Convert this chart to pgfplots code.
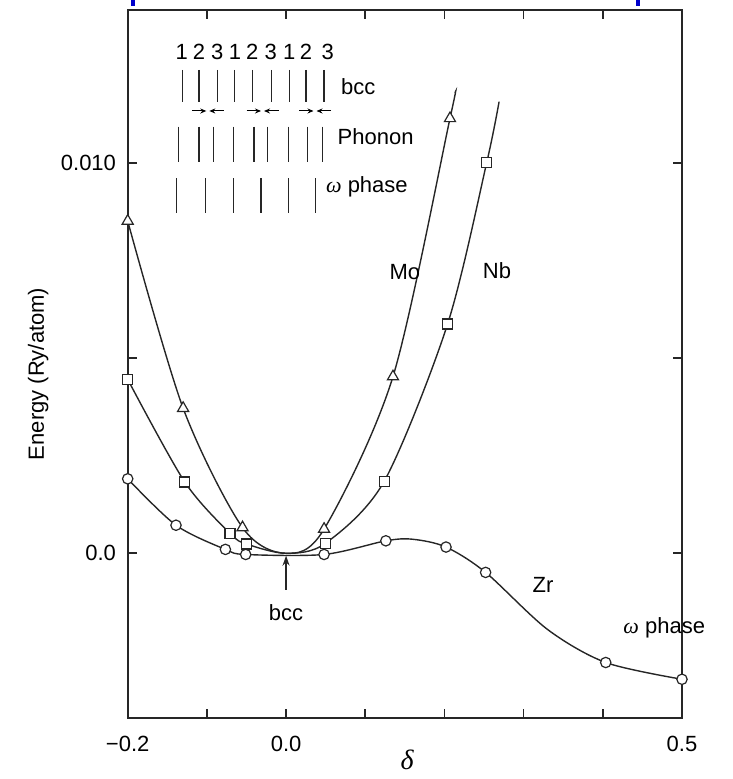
\documentclass[border=0pt]{standalone}
\usepackage{fontspec}
\setmainfont{Liberation Sans}
\newfontfamily\grk{Liberation Serif}
\usepackage{pgfplots}
\pgfplotsset{compat=1.18}
\usetikzlibrary{arrows.meta,calc}
\newcommand{\om}{{\grk\itshape ω}}

\begin{document}
\fontsize{11}{13}\selectfont
\begin{tikzpicture}
\begin{axis}[
 scale only axis, width=277.15pt, height=354pt,
 xmin=-0.2, xmax=0.5, ymin=-0.004223, ymax=0.013931,
 xtick={-0.2,-0.1,0,0.1,0.2,0.3,0.4,0.5},
 xticklabels={−0.2,,0.0,,,,,0.5},
 ytick={0,0.005,0.010},
 yticklabels={0.0,,0.010},
 scaled y ticks=false,
 major tick length=4.5pt,
 tick style={line width=0.8pt, black!85},
 axis line style={line width=0.9pt, black!85},
 every tick label/.append style={font=\fontsize{11}{13}\selectfont},
 xticklabel style={yshift=-5pt},
 yticklabel style={xshift=-2pt},
 clip=false,
]
% Mo
\addplot[smooth, line width=0.7pt, black!85] coordinates {
 (-0.2,0.00852) (-0.13,0.00372) (-0.055,0.00066) (0,0) (0.048,0.00062) (0.135,0.00453) (0.207,0.01115) (0.2134,0.0118)};
% Nb
\addplot[smooth, line width=0.7pt, black!85] coordinates {
 (-0.2,0.00446) (-0.128,0.00183) (-0.0707,0.00051) (-0.050,0.00024) (0,0) (0.050,0.00026) (0.124,0.00185) (0.204,0.00588) (0.2534,0.01002) (0.269,0.01158)};
% Zr
\addplot[smooth, line width=0.7pt, black!85] coordinates {
 (-0.2,0.00191) (-0.139,0.00072) (-0.0766,0.0001) (-0.051,-0.00003) (0.048,-0.00003) (0.126,0.00032) (0.16,0.00036) (0.202,0.00016) (0.252,-0.00049) (0.33,-0.00195) (0.4037,-0.0028) (0.5,-0.00323)};
% markers
\addplot[only marks, mark=triangle*, mark size=3.2pt, mark options={fill=white, draw=black!85, line width=0.6pt}] coordinates {
 (-0.2,0.00852) (-0.13,0.00372) (-0.055,0.00066) (0.048,0.00062) (0.135,0.00453) (0.207,0.01115)};
\addplot[only marks, mark=square*, mark size=2.5pt, mark options={fill=white, draw=black!85, line width=0.6pt}] coordinates {
 (-0.2,0.00446) (-0.128,0.00183) (-0.0707,0.00051) (-0.050,0.00024) (0.050,0.00026) (0.124,0.00185) (0.204,0.00588) (0.2534,0.01002)};
\addplot[only marks, mark=*, mark size=2.6pt, mark options={fill=white, draw=black!85, line width=0.6pt}] coordinates {
 (-0.2,0.00191) (-0.139,0.00072) (-0.0766,0.0001) (-0.051,-0.00003) (0.048,-0.00003) (0.126,0.00032) (0.202,0.00016) (0.252,-0.00049) (0.4037,-0.0028) (0.5,-0.00323)};

\node at (axis cs:0.150,0.00721) {Mo};
\node at (axis cs:0.2664,0.00726) {Nb};
\node at (axis cs:0.3245,-0.00081) {Zr};
\node[anchor=west, inner sep=0pt] at (axis cs:0.4255,-0.00192) {\om\ phase};
\node at (axis cs:0,-0.00153) {bcc};
\draw[-{Stealth[length=5pt,width=3.5pt]}, line width=0.7pt, black!85] (axis cs:0,-0.00094) -- (axis cs:0,-0.00006);
\node[rotate=90] at (axis cs:-0.313,0.0046) {Energy (Ry/atom)};
\node at (axis cs:0.1528,-0.0053) {\fontsize{14}{16}\selectfont\grk\itshape δ};
\coordinate (O) at (rel axis cs:0,0);
\end{axis}

\begin{scope}[shift={($(O)+(-63.85pt,359pt)$)}, x=0.5pt, y=-0.5pt]
 \fill[blue!80!black] (131,0) rectangle (135,6);
 \fill[blue!80!black] (636,0) rectangle (640,6);
 \foreach \x/\n in {181.7/1,199/2,217.3/3,235/1,252.3/2,270.7/3,289.3/1,306/2,327.7/3}
   \node at (\x,51.7) {\n};
 \foreach \x in {182.3,199,217.3,234.3,252.7,271.3,289.7,306,324}
   \draw[line width=0.7pt, black!85] (\x,70) -- (\x,101.7);
 \foreach \c in {207.8,262.5,315} {
   \draw[-{Stealth[length=3pt,width=2.5pt]}, line width=0.5pt] (\c-16,111) -- (\c-1.5,111);
   \draw[-{Stealth[length=3pt,width=2.5pt]}, line width=0.5pt] (\c+16,111) -- (\c+1.5,111);
 }
 \foreach \x in {178.3,199,213.3,233.3,254,267.3,288.3,307.7,322.7}
   \draw[line width=0.7pt, black!85] (\x,126.7) -- (\x,161.7);
 \foreach \x in {176.7,205.7,233.3,261,288.3,315.7}
   \draw[line width=0.7pt, black!85] (\x,178.3) -- (\x,213.3);
 \node[anchor=west, inner sep=0pt] at (340.7,86.7) {bcc};
 \node[anchor=west, inner sep=0pt] at (337.3,136.7) {Phonon};
 \node[anchor=west, inner sep=0pt] at (325.7,186.7) {\om\ phase};
 \pgfresetboundingbox
 \path (0,0) rectangle (732,779);
\end{scope}
\end{tikzpicture}
\end{document}
